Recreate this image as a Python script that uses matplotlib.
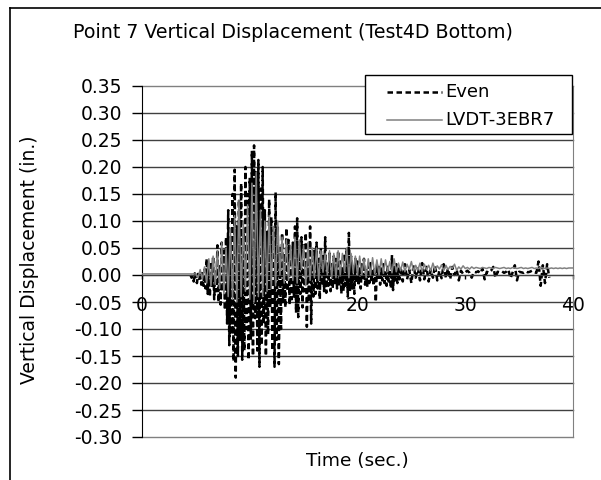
import numpy as np
import matplotlib
matplotlib.use("Agg")
import matplotlib.pyplot as plt
from matplotlib.lines import Line2D
from matplotlib.patches import Rectangle

plt.rcParams['font.family'] = ['DejaVu Sans']

# ---------------- data (displacement in 0.001 in.) ----------------
# "Even" series: dense part sampled every 0.1 s from 4.5 s, tail every 0.2 s from 24 s
even_t0_dense, even_dt_dense = 4.5, 0.1
even_dense = [
    0, -5, -2, -12, 3, -8, -15, 2, -10, 5, -18, 8, -20, 10, -25,
    30, -35, 15, -40, 25, -20, 35, -45, 10, -30,
    55, -50, 20, -55, 60, -30, 45, -65, 70, -90,
    120, -130, 60, -110, 150, -160, 195, -190, 90, -150,
    140, -120, 170, -157, 80, -140, 200, -100, 150, -157,
    180, -120, 230, -150, 240, -80, 190, -140, 213, -170,
    160, -130, 200, -90, 120, -150, 80, -110, 140, -60,
    107, -140, 60, -170, 153, -120, 90, -165, 50, -100,
    78, -50, 40, -60, 87, -30, 65, -55, 30, -45,
    60, -40, 90, -70, 105, -78, 50, -35, 70, -60,
    55, -30, 78, -96, 40, -50, 90, -90, 30, -40,
    45, -35, 60, -25, 30, -45, 50, -20, 35, -30,
    70, -33, 25, -20, 40, -30, 20, -25, 35, -15,
    30, -25, 45, -20, 25, -35, 15, -30, 40, -20,
    50, -40, 78, -30, 35, -25, 20, -35, 30, -15,
    25, -20, 15, -25, 20, -10, 30, -18, 12, -22,
    18, -15, 22, -12, 10, -20, 15, -50, 20, -10,
    15, -18, 12, -10, 20, -15, 8, -20, 18, -12,
    10, -25, 37, -28, 15, -10, 20, -15, 12, -8,
]
even_t0_tail, even_dt_tail = 24.0, 0.2
even_tail = [
    15, -12, 20, -8, 10, -15, 18, -5, 12, -10,
    22, -8, 15, -12, 10, -5, 18, -10, 8, -6,
    20, -5, 12, -8, 15, 0, 10, -10, 8, 2,
    5, 8, 4, -5, 6, 5, 7, 3, 12, -8,
    6, 4, 8, 15, -5, 6, 5, 7, 4, 6,
    10, -6, 5, 18, -10, 6, 5, 4, 7, 5,
    6, 8, 5, 4, 25, -20, 18, -15, 20, -5,
]

# "LVDT-3EBR7" series: flat start, then sampled every 0.2 s from 5 s
lvdt_start_t = [0.0, 4.8]
lvdt_start_v = [2, 2]
lvdt_t0_dense, lvdt_dt_dense = 5.0, 0.2
lvdt_dense = [
    2, -5, 10, -8, 15, -15, 30, -20, 35, -18,
    45, -25, 60, -35, 50, -40, 87, -45, 110, -50,
    139, -40, 100, -30, 130, -45, 170, -50, 190, -40,
    120, -40, 100, -30, 110, -25, 90, -20, 100, 0,
    70, -15, 65, -10, 55, -10, 70, -15, 65, 10,
    55, -20, 60, -10, 50, -5, 50, -10, 45, 5,
    40, 0, 45, -5, 40, -5, 45, 0, 40, 5,
    50, -5, 40, 5, 35, 0, 35, 0, 30, -5,
    30, 0, 32, 2, 28, 0, 30, 3, 28, 6,
    25, 4, 30, 6, 22,
    8, 24, 6, 20, 10, 25, 7, 18, 9, 22,
    6, 20, 10, 18, 8, 22, 9, 17, 11, 19,
    8, 18, 10, 16, 12, 20, 9, 15, 11, 17,
    12, 14, 11, 15, 12, 14, 13, 12, 14, 13,
    12, 14, 13, 12, 14, 13, 12, 13, 14, 12,
    13, 12, 14, 13, 12, 13, 14, 12, 13, 12,
    13, 14, 12, 13, 12, 14, 13, 12, 13, 12,
    13, 12, 13, 12, 13, 12, 13, 12, 13, 13, 13,
]

y_ticks = [-0.30, -0.25, -0.20, -0.15, -0.10, -0.05, 0.00, 0.05, 0.10, 0.15, 0.20, 0.25, 0.30, 0.35]
x_ticks = [0, 10, 20, 30, 40]
title = "Point 7 Vertical Displacement (Test4D Bottom)"
x_label = "Time (sec.)"
y_label = "Vertical Displacement (in.)"
series_names = ["Even", "LVDT-3EBR7"]


def sampled(t0, dt, vals):
    t = t0 + dt * np.arange(len(vals))
    return t, np.asarray(vals, dtype=float) / 1000.0


t1a, v1a = sampled(even_t0_dense, even_dt_dense, even_dense)
t1b, v1b = sampled(even_t0_tail, even_dt_tail, even_tail)
even_t = np.concatenate([t1a, t1b])
even_v = np.concatenate([v1a, v1b])

t2a, v2a = sampled(lvdt_t0_dense, lvdt_dt_dense, lvdt_dense)
lvdt_t = np.concatenate([np.array(lvdt_start_t), t2a])
lvdt_v = np.concatenate([np.array(lvdt_start_v) / 1000.0, v2a])

# ---------------- figure ----------------
W, H = 601, 480
fig = plt.figure(figsize=(W / 100, H / 100), dpi=100)
ax = fig.add_axes([142 / W, 1 - 437 / H, (573 - 142) / W, (437 - 86) / H])


def fx(px):
    return px / W


def fy(py):
    return 1 - py / H


# outer frame (left and top only visible)
fig.add_artist(Line2D([fx(10), fx(10)], [0, fy(8)], transform=fig.transFigure, color='black', lw=1.2))
fig.add_artist(Line2D([fx(10), 1], [fy(8), fy(8)], transform=fig.transFigure, color='black', lw=1.2))

for y in y_ticks:
    col = '#808080' if y in (y_ticks[0], y_ticks[-1]) else '#404040'
    ax.axhline(y, color=col, lw=1.0, zorder=0.5, clip_on=False)

even_style = dict(color='black', lw=1.8, linestyle=(0, (2.2, 1.4)))
lvdt_style = dict(color='#808080', lw=1.1)
ax.plot(even_t, even_v, zorder=2, **even_style)
ax.plot(lvdt_t, lvdt_v, zorder=3, **lvdt_style)

ax.set_xlim(0, 40)
ax.set_ylim(-0.30, 0.35)
ax.set_yticks(y_ticks)
ax.set_yticklabels([f"{v:.2f}" for v in y_ticks])
ax.set_xticks(x_ticks)
ax.set_xticklabels([str(v) for v in x_ticks])

ax.spines['top'].set_visible(False)
ax.spines['right'].set_color('#808080')
ax.spines['left'].set_color('black')
ax.spines['bottom'].set_position(('data', 0))
ax.spines['bottom'].set_color('#404040')
ax.tick_params(axis='y', direction='out', length=7, width=1, pad=7, labelsize=13.5, colors='black')
ax.tick_params(axis='x', direction='out', length=3, width=1, pad=12, labelsize=13.5, colors='black')

fig.text(fx(293), fy(33), title, ha='center', va='center', fontsize=13.7)
fig.text(fx(357), fy(461), x_label, ha='center', va='center', fontsize=13.3)
fig.text(fx(30), fy(260), y_label, ha='center', va='center', rotation=90, fontsize=13.5)

# legend box drawn in figure pixels to match the reference placement
fig.add_artist(Rectangle((fx(365), fy(134)), fx(572) - fx(365), fy(75) - fy(134),
                         transform=fig.transFigure, facecolor='white', edgecolor='black', lw=1.0, zorder=5))
for row_y, name, style in [(92, series_names[0], even_style), (120, series_names[1], lvdt_style)]:
    fig.add_artist(Line2D([fx(387), fx(442)], [fy(row_y), fy(row_y)], transform=fig.transFigure,
                          zorder=6, **style))
    fig.text(fx(445), fy(row_y), name, ha='left', va='center', fontsize=13, zorder=7)

fig.savefig("out.png", dpi=100)
